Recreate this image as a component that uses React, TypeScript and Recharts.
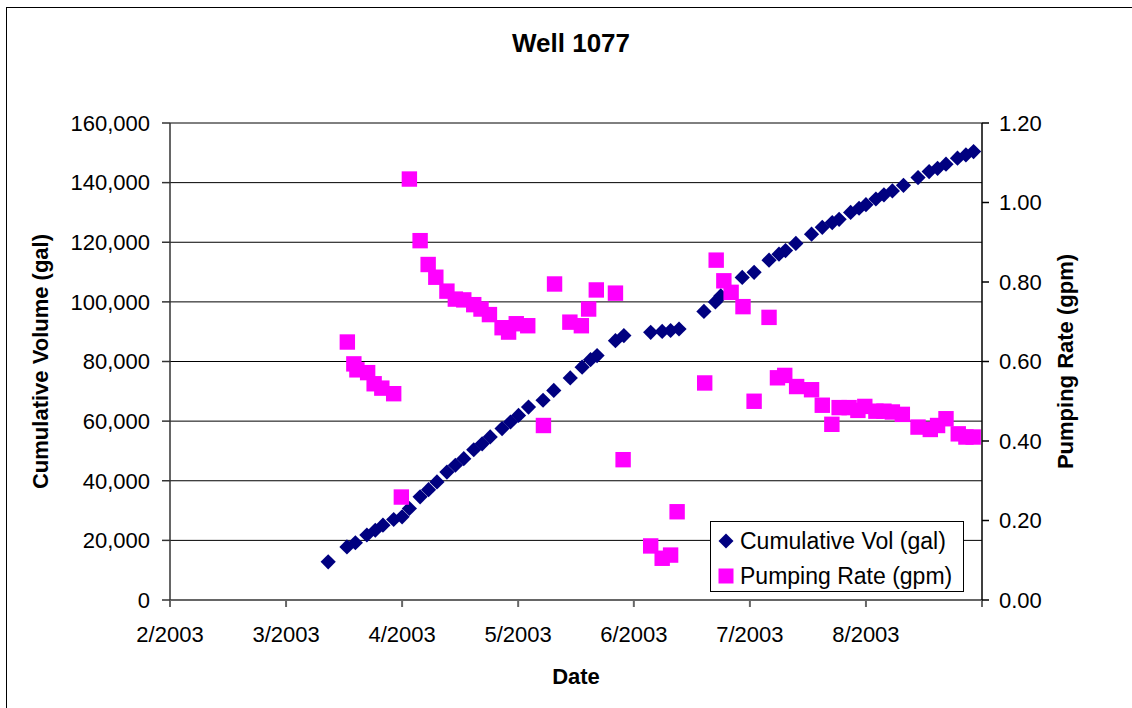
import React from "react";
import {
  ScatterChart,
  Scatter,
  XAxis,
  YAxis,
  CartesianGrid,
  Legend,
  Label,
} from "recharts";

// days counted from 2/1/2003
const cumDays = [
  41.3, 46.2, 48.4, 51.4, 53.6, 55.6, 58.4, 60.6, 62.5, 65.3, 67.5, 69.7, 72.3,
  74.5, 76.7, 79.3, 81.5, 83.6, 86.7, 88.9, 91.0, 93.6, 97.4, 100.2, 104.5,
  107.6, 109.8, 111.5, 116.3, 118.5, 125.5, 128.5, 130.7, 132.9, 139.4, 142.4,
  143.8, 149.4, 152.5, 156.4, 159.0, 160.7, 163.4, 167.5, 170.3, 172.9, 174.7,
  177.7, 179.9, 181.7, 184.3, 186.4, 188.6, 191.5, 195.3, 198.2, 200.4, 202.6,
  205.6, 207.8, 209.8,
];
const cumVolume = [
  12800, 17800, 19200, 21800, 23400, 25100, 27000, 27900, 30700, 34600, 37000,
  39600, 42900, 45200, 47400, 50400, 52400, 54700, 57500, 59700, 61900, 64700,
  67000, 70300, 74500, 78100, 80600, 82000, 87000, 88700, 89800, 90100, 90400,
  90900, 96800, 100000, 102000, 108200, 109900, 114000, 116000, 117200, 119600,
  122700, 125000, 126600, 127700, 130000, 131400, 132600, 134500, 135900,
  137200, 139100, 141700, 143700, 144800, 146200, 148200, 149300, 150400,
];

const rateDays = [
  46.3, 48.0, 48.8, 51.6, 53.3, 55.3, 58.4, 60.4, 62.5, 65.3, 67.4, 69.4, 72.3,
  74.5, 76.7, 79.3, 81.2, 83.4, 86.7, 88.4, 90.4, 93.4, 97.5, 100.4, 104.4,
  107.4, 109.3, 111.3, 116.3, 118.3, 125.5, 128.5, 130.7, 132.4, 139.6, 142.6,
  144.6, 146.5, 149.6, 152.5, 156.4, 158.6, 160.5, 163.6, 167.5, 170.3, 172.8,
  174.7, 177.3, 179.6, 181.4, 184.3, 186.4, 188.6, 191.2, 195.3, 198.5, 200.4,
  202.6, 205.8, 207.8, 209.7,
];
const rateGpm = [
  0.649, 0.594, 0.579, 0.572, 0.544, 0.533, 0.519, 0.259, 1.059, 0.904, 0.844,
  0.812, 0.777, 0.757, 0.755, 0.743, 0.732, 0.718, 0.685, 0.674, 0.695, 0.69,
  0.439, 0.795, 0.699, 0.69, 0.732, 0.78, 0.772, 0.353, 0.136, 0.105, 0.113,
  0.222, 0.546, 0.855, 0.803, 0.774, 0.738, 0.5, 0.711, 0.559, 0.565, 0.537,
  0.529, 0.49, 0.442, 0.484, 0.484, 0.477, 0.487, 0.475, 0.475, 0.473, 0.467,
  0.435, 0.429, 0.439, 0.456, 0.418, 0.41, 0.41,
];

const dateTicks = [0, 30.3, 60.6, 90.9, 121.1, 151.4, 181.7, 212];
const dateLabels = ["2/2003", "3/2003", "4/2003", "5/2003", "6/2003", "7/2003", "8/2003", ""];
const volumeTicks = [0, 20000, 40000, 60000, 80000, 100000, 120000, 140000, 160000];
const rateTicks = [0, 0.2, 0.4, 0.6, 0.8, 1.0, 1.2];

const cumData = cumDays.map((day, i) => ({ day, vol: cumVolume[i] }));
const rateData = rateDays.map((day, i) => ({ day, rate: rateGpm[i] }));

const FONT = "'Liberation Sans', Arial, sans-serif";
const NAVY = "#000080";
const MAGENTA = "#FF00FF";

const Diamond = (props: any) => {
  const { cx, cy } = props;
  const r = 7.6;
  return (
    <polygon
      points={`${cx},${cy - r} ${cx + r},${cy} ${cx},${cy + r} ${cx - r},${cy}`}
      fill={NAVY}
    />
  );
};

const Square = (props: any) => {
  const { cx, cy } = props;
  return <rect x={cx - 7.7} y={cy - 7.7} width={15.4} height={15.4} fill={MAGENTA} />;
};

const LegendBox = () => (
  <div
    style={{
      width: 254,
      height: 71,
      border: "1px solid #000",
      background: "#fff",
      boxSizing: "border-box",
      fontFamily: FONT,
      fontSize: 23,
      color: "#000",
      position: "relative",
    }}
  >
    <div style={{ position: "absolute", left: 7, top: 2, height: 34, display: "flex", alignItems: "center" }}>
      <svg width={16} height={16} style={{ marginRight: 6 }}>
        <polygon points="8,0.5 15.5,8 8,15.5 0.5,8" fill={NAVY} />
      </svg>
      <span style={{ whiteSpace: "nowrap" }}>Cumulative Vol (gal)</span>
    </div>
    <div style={{ position: "absolute", left: 7, top: 37, height: 34, display: "flex", alignItems: "center" }}>
      <svg width={16} height={16} style={{ marginRight: 6 }}>
        <rect x={0.5} y={0.5} width={15} height={15} fill={MAGENTA} />
      </svg>
      <span style={{ whiteSpace: "nowrap" }}>Pumping Rate (gpm)</span>
    </div>
  </div>
);

export default function App() {
  const tick = { fontSize: 22, fill: "#000", fontFamily: FONT };
  return (
    <div
      style={{
        position: "absolute",
        left: 0,
        top: 0,
        width: 1132,
        height: 708,
        overflow: "hidden",
        background: "#fff",
      }}
    >
      {/* chart border, only top and left edges show in the frame */}
      <div
        style={{
          position: "absolute",
          left: 6,
          top: 7,
          width: 1200,
          height: 800,
          border: "1px solid #000",
        }}
      />
      <div
        style={{
          position: "absolute",
          left: 0,
          top: 28,
          width: 1142,
          textAlign: "center",
          fontFamily: FONT,
          fontWeight: "bold",
          fontSize: 26,
          color: "#000",
        }}
      >
        Well 1077
      </div>
      <div style={{ position: "absolute", left: 0, top: 0 }}>
        <ScatterChart
          width={1132}
          height={708}
          margin={{ top: 123, right: 60, bottom: 18, left: 60 }}
        >
          <CartesianGrid horizontal vertical={false} stroke="#000" strokeWidth={1} />
          <XAxis
            type="number"
            dataKey="day"
            domain={[0, 212]}
            ticks={dateTicks}
            tickFormatter={(v: number, i: number) => dateLabels[i]}
            tick={tick}
            tickSize={7}
            tickMargin={19}
            stroke="#666"
            strokeWidth={2}
            height={90}
            allowDataOverflow
          >
            <Label
              value="Date"
              position="insideBottom"
              offset={6}
              style={{ fontSize: 22, fontWeight: "bold", fill: "#000", fontFamily: FONT }}
            />
          </XAxis>
          <YAxis
            type="number"
            dataKey="vol"
            domain={[0, 160000]}
            ticks={volumeTicks}
            tickFormatter={(v: number) => v.toLocaleString("en-US")}
            tick={tick}
            tickSize={8}
            tickMargin={12}
            width={110}
            stroke="#333"
            strokeWidth={1.5}
          >
            <Label
              value="Cumulative Volume (gal)"
              angle={-90}
              position="center"
              dx={-75}
              style={{ fontSize: 22, fontWeight: "bold", fill: "#000", fontFamily: FONT, textAnchor: "middle" }}
            />
          </YAxis>
          <YAxis
            yAxisId="right"
            orientation="right"
            type="number"
            dataKey="rate"
            domain={[0, 1.2]}
            ticks={rateTicks}
            tickFormatter={(v: number) => v.toFixed(2)}
            tick={tick}
            tickSize={7}
            tickMargin={10}
            width={90}
            stroke="#000"
            strokeWidth={1.5}
          >
            <Label
              value="Pumping Rate (gpm)"
              angle={-90}
              position="center"
              dx={38}
              style={{ fontSize: 22, fontWeight: "bold", fill: "#000", fontFamily: FONT, textAnchor: "middle" }}
            />
          </YAxis>
          <Legend
            layout="vertical"
            align="center"
            verticalAlign="middle"
            content={<LegendBox />}
            wrapperStyle={{ left: 710, top: 521, width: 254, height: 71 }}
          />
          <Scatter
            name="Cumulative Vol (gal)"
            data={cumData}
            dataKey="vol"
            shape={<Diamond />}
            isAnimationActive={false}
          />
          <Scatter
            name="Pumping Rate (gpm)"
            data={rateData}
            dataKey="rate"
            yAxisId="right"
            shape={<Square />}
            isAnimationActive={false}
          />
        </ScatterChart>
      </div>
    </div>
  );
}
